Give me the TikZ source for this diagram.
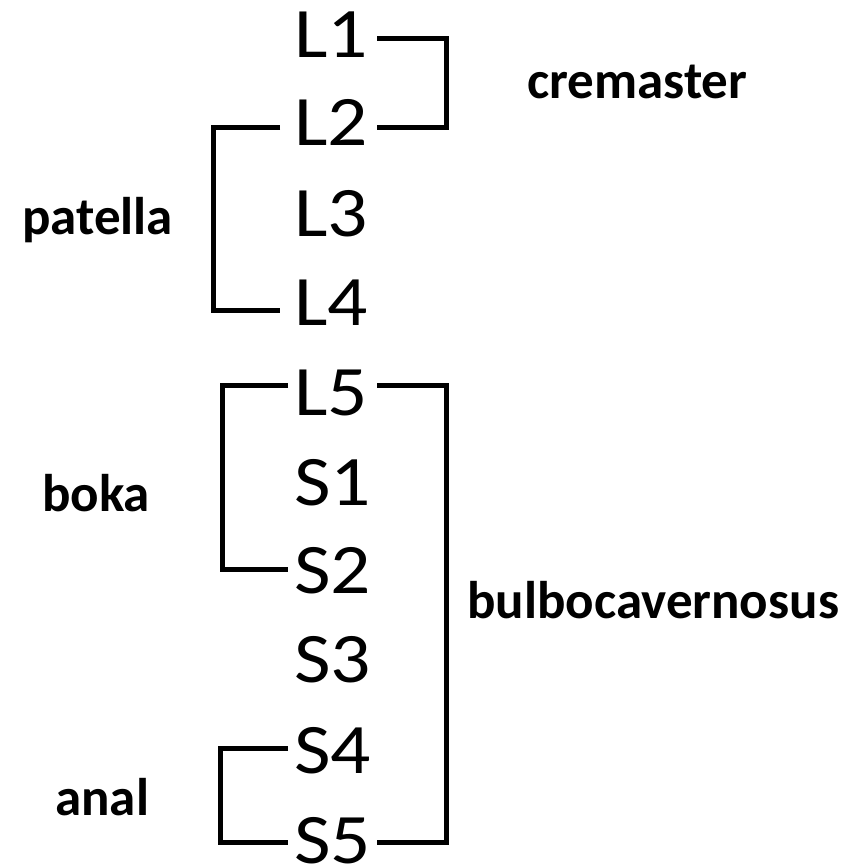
\documentclass[tikz,border=0pt]{standalone}
\usepackage{fontspec}
\setmainfont{Carlito}
\newfontfamily\levelfont[FakeStretch=1.12]{Carlito}
\begin{document}
\begin{tikzpicture}[x=1pt,y=-1pt,
  level/.style={anchor=base west,inner sep=0pt,font=\levelfont\fontsize{71}{71}\selectfont},
  reflex/.style={anchor=west,inner sep=0pt,font=\fontsize{53}{53}\selectfont\bfseries},
  br/.style={line width=5pt,line join=miter}]
\useasboundingbox (0,0) rectangle (861,865);
% spinal levels
\node[level] (L1) at (294,57) {L1};
\node[level] (L2) at (294,145) {L2};
\node[level] (L3) at (294,236) {L3};
\node[level] (L4) at (294,325) {L4};
\node[level] (L5) at (294,415) {L5};
\node[level] (S1) at (294,505) {S1};
\node[level] (S2) at (294,593) {S2};
\node[level] (S3) at (294,682) {S3};
\node[level] (S4) at (294,773) {S4};
\node[level] (S5) at (294,863) {S5};
% reflex names
\node[reflex] (crem) at (527,82) {cremaster};
\node[reflex] (pat) at (22,220) {patella};
\node[reflex] (boka) at (42,493) {boka};
\node[reflex] (bulbo) at (467,600) {bulbocavernosus};
\node[reflex] (anal) at (55,797) {anal};
% bracket ends beside the levels
\coordinate (L1e) at (377,38);
\coordinate (L2e) at (377,127);
\coordinate (L2w) at (280,127);
\coordinate (L4w) at (280,310);
\coordinate (L5w) at (288,385);
\coordinate (L5e) at (377,385);
\coordinate (S2w) at (288,569);
\coordinate (S4w) at (288,748);
\coordinate (S5w) at (288,842);
\coordinate (S5e) at (377,842);
% brackets
\draw[br] (L1e) -- ++(69,0) |- (L2e);
\draw[br] (L2w) -- ++(-67,0) |- (L4w);
\draw[br] (L5w) -- ++(-66,0) |- (S2w);
\draw[br] (S4w) -- ++(-68,0) |- (S5w);
\draw[br] (L5e) -- ++(69,0) |- (S5e);
\end{tikzpicture}
\end{document}
